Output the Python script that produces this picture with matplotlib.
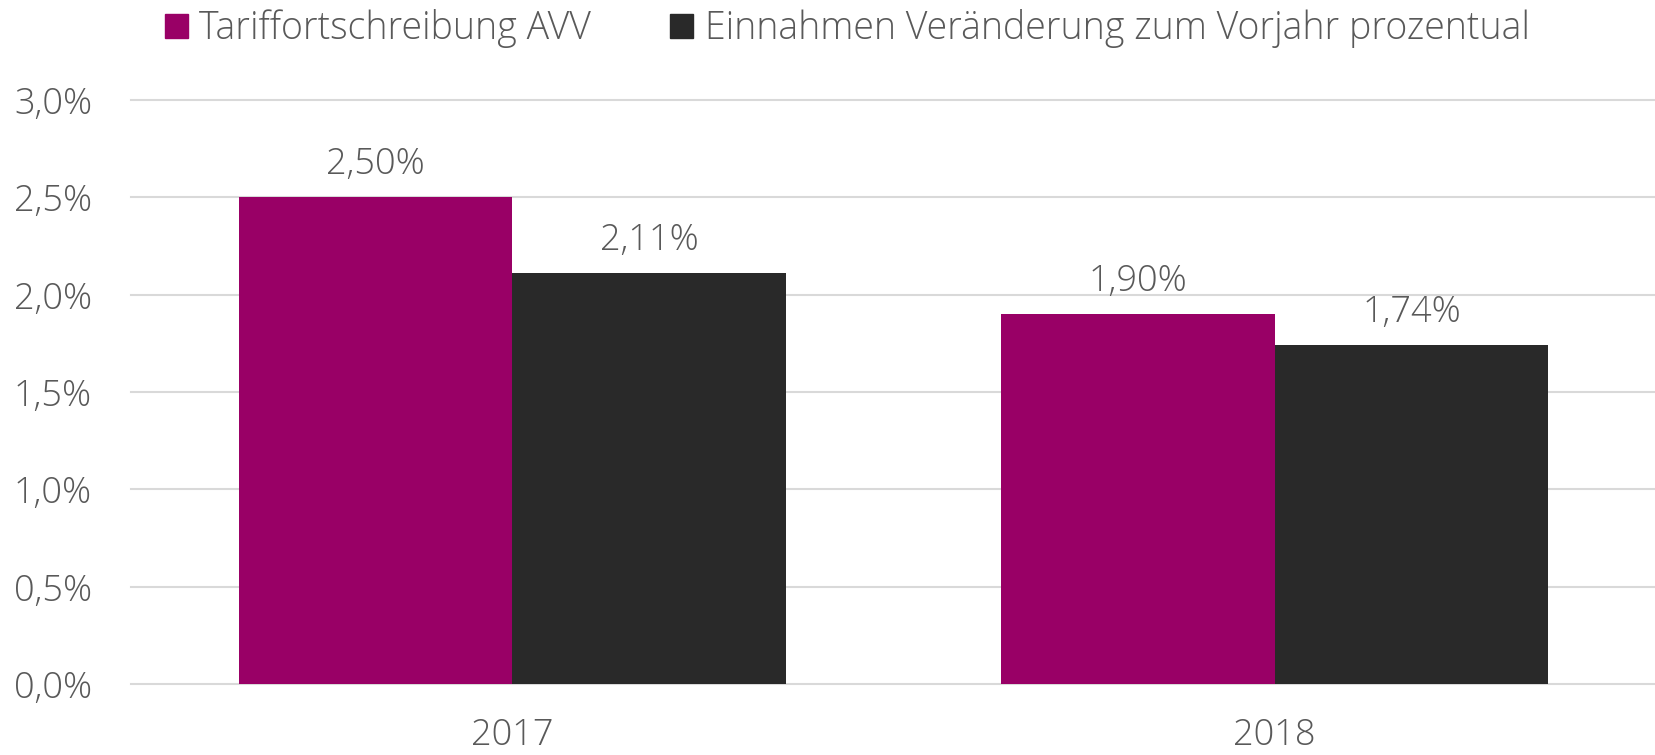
import matplotlib
matplotlib.use("Agg")
import matplotlib.pyplot as plt
import numpy as np
from matplotlib.patches import Patch

# data
years = ["2017", "2018"]
tarif = [2.50, 1.90]
einnahmen = [2.11, 1.74]
series_names = ["Tariffortschreibung AVV", "Einnahmen Veränderung zum Vorjahr prozentual"]
yticks = [0.0, 0.5, 1.0, 1.5, 2.0, 2.5, 3.0]

col_tarif = "#990066"
col_einn = "#292929"
txt_col = "#595959"

plt.rcParams['font.family'] = ['Open Sans', 'DejaVu Sans']
plt.rcParams['font.weight'] = 'light'

def de_pct(v, nd):
    return ("{:.%df}" % nd).format(v).replace('.', ',') + '%'

fig = plt.figure(figsize=(16.56, 7.55), dpi=100)
ax = fig.add_axes([0.0791, 0.094, 0.9209, 0.7735])

x = np.arange(len(years))
w = 0.359
b1 = ax.bar(x - w/2, tarif, w, color=col_tarif)
b2 = ax.bar(x + w/2, einnahmen, w, color=col_einn)

for bars, vals in ((b1, tarif), (b2, einnahmen)):
    for bar, v in zip(bars, vals):
        ax.annotate(de_pct(v, 2), (bar.get_x() + bar.get_width()/2, v),
                    xytext=(0, 10), textcoords='offset points',
                    ha='center', va='bottom', fontsize=26, color=txt_col,
                    fontweight='light')

ax.set_xlim(-0.5, 1.5)
ax.set_ylim(0, 3.0)
ax.set_yticks(yticks)
ax.set_yticklabels([de_pct(t, 1) for t in yticks])
ax.set_xticks(x)
ax.set_xticklabels(years)
ax.tick_params(axis='both', length=0, labelsize=26, labelcolor=txt_col)
ax.tick_params(axis='y', pad=28)
ax.tick_params(axis='x', pad=24)
for lab in ax.get_xticklabels() + ax.get_yticklabels():
    lab.set_fontweight('light')

ax.grid(axis='y', color='#d9d9d9', linewidth=1.5)
ax.set_axisbelow(True)
for s in ax.spines.values():
    s.set_visible(False)
for gl in ax.get_ygridlines():
    gl.set_clip_on(False)

handles = [Patch(color=col_tarif), Patch(color=col_einn)]
leg = fig.legend(handles, series_names, loc='center', bbox_to_anchor=(0.5116, 0.962),
                 ncol=2, frameon=False, fontsize=27, handlelength=0.62, handleheight=0.62,
                 handletextpad=0.3, columnspacing=2.1, borderaxespad=0)
for t in leg.get_texts():
    t.set_color(txt_col)
    t.set_fontweight('light')

fig.savefig("out.png", dpi=100)
